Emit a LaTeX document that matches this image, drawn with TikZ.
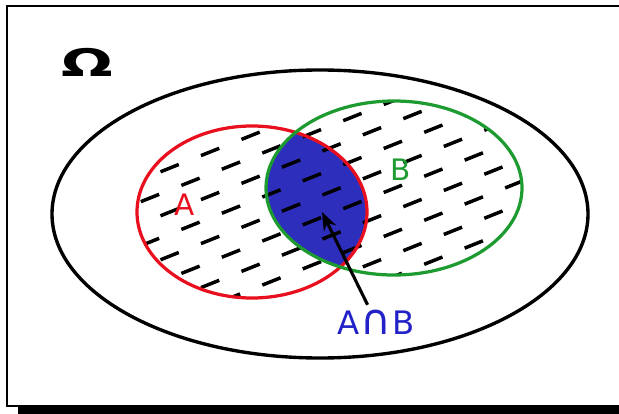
\documentclass[tikz,border=0pt]{standalone}
\usepackage{fontspec}
\setmainfont{DejaVu Sans}
\usetikzlibrary{arrows.meta}
\definecolor{SetRed}{HTML}{E8101E}
\definecolor{SetGreen}{HTML}{1E9B30}
\definecolor{CapBlue}{HTML}{2E2EBC}
\definecolor{LabelBlue}{HTML}{2222C8}

\begin{document}
\begin{tikzpicture}[
    x=0.025cm, y=-0.025cm,
    >=Stealth,
    setline/.style={line width=2.3pt},
    hatch/.style={line width=2.5pt, black, dash pattern=on 14pt off 17pt},
    setlabel/.style={font=\fontsize{21}{21}\selectfont}
]
\useasboundingbox (0,0) rectangle (619,414);
% frame with shadow
\draw[line width=0.8pt] (619,6) -- (7,6) -- (7,406) -- (18,406);
\fill (18,405) rectangle (619,414);

% intersection
\begin{scope}
  \clip (252,212) ellipse (115 and 86);
  \fill[CapBlue] (394,188) ellipse (128 and 87);
\end{scope}
% hatching of the union
\begin{scope}
  \clip (252,212) ellipse (115 and 86) (394,188) ellipse (128 and 87);
  \foreach \k in {0,...,17} {
    \pgfmathsetmacro\ph{mod(\k,2)*15}
    \draw[hatch, dash phase=\ph pt] (120,{100+22*\k}) -- (540,{100+22*\k-168});
  }
\end{scope}

\draw[setline, SetRed] (252,212) ellipse (115 and 86);
\draw[setline, SetGreen] (394,188) ellipse (128 and 87);
\draw[line width=2.4pt] (320,214) ellipse (268 and 144);

\node[font=\bfseries\fontsize{27}{27}\selectfont, xscale=1.6] (omega) at (87,62) {Ω};
\node[setlabel, text=SetRed] (la) at (185,205) {A};
\node[setlabel, text=SetGreen] (lb) at (401,170) {B};
\node[font=\fontsize{23}{23}\selectfont, text=LabelBlue] (ab) at (376,322)
  {A\hspace{1pt}{\fontsize{30}{30}\selectfont ∩}\hspace{1pt}B};
\coordinate (tip) at (322,212);
\draw[->, line width=2.2pt] (ab) -- (tip);
\end{tikzpicture}
\end{document}
